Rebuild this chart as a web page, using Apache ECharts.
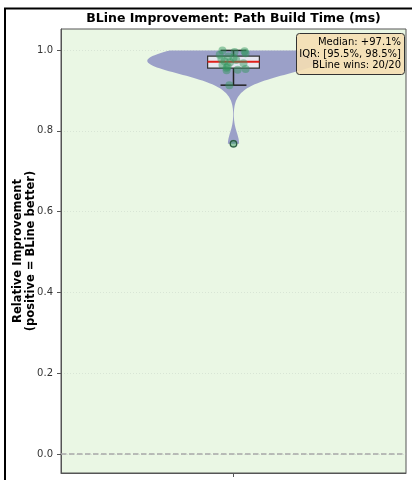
<!DOCTYPE html>
<html>
<head>
<meta charset="utf-8">
<script src="https://cdn.jsdelivr.net/npm/echarts@6/dist/echarts.min.js"></script>
<style>
  html, body { margin: 0; padding: 0; background: #fff; }
  #chart { width: 412px; height: 480px; }
</style>
</head>
<body>
<div id="chart"></div>
<script>
// Relative improvement of BLine per run (fraction, positive = BLine faster)
const improvement = [0.768, 0.913, 0.950, 0.951, 0.953, 0.956, 0.959, 0.963, 0.967, 0.970,
                     0.972, 0.975, 0.978, 0.981, 0.984, 0.988, 0.992, 0.995, 0.997, 0.999];
// horizontal jitter of each strip point (in category units)
const jitter = [0.0, -0.012, -0.020, 0.012, 0.035, -0.020, -0.017, -0.032, 0.029, -0.010,
                -0.026, 0.008, -0.035, 0.0, -0.015, -0.040, 0.035, 0.003, 0.032, -0.032];
const yTicks = [0, 0.2, 0.4, 0.6, 0.8, 1.0];
const referenceLevel = 0;
const position = 1;
const chartTitle = 'BLine Improvement: Path Build Time (ms)';
const yName = 'Relative Improvement\n(positive = BLine better)';

// ---- statistics ----
const sorted = improvement.slice().sort((a, b) => a - b);
function quantile(arr, q) {
  const idx = (arr.length - 1) * q;
  const lo = Math.floor(idx), hi = Math.ceil(idx);
  return arr[lo] + (arr[hi] - arr[lo]) * (idx - lo);
}
const q1 = quantile(sorted, 0.25);
const med = quantile(sorted, 0.5);
const q3 = quantile(sorted, 0.75);
const iqr = q3 - q1;
const loFence = q1 - 1.5 * iqr, hiFence = q3 + 1.5 * iqr;
const inside = sorted.filter(v => v >= loFence && v <= hiFence);
const whiskLo = inside[0], whiskHi = inside[inside.length - 1];
const fliers = sorted.filter(v => v < loFence || v > hiFence);
const wins = improvement.filter(v => v > 0).length;

// ---- Gaussian KDE (Scott's rule) for the violin ----
const n = improvement.length;
const mean = improvement.reduce((s, v) => s + v, 0) / n;
const sd = Math.sqrt(improvement.reduce((s, v) => s + (v - mean) ** 2, 0) / (n - 1));
const bw = sd * Math.pow(n, -1 / 5);
function kde(y) {
  let s = 0;
  for (const v of improvement) { const z = (y - v) / bw; s += Math.exp(-0.5 * z * z); }
  return s / (n * bw * Math.sqrt(2 * Math.PI));
}
const yMin = sorted[0], yMax = sorted[n - 1];
const kdeY = [], kdeD = [];
for (let i = 0; i < 100; i++) {
  const y = yMin + (yMax - yMin) * i / 99;
  kdeY.push(y); kdeD.push(kde(y));
}
const dMax = Math.max(...kdeD);
const violinHalf = 0.25, boxHalf = 0.075, capHalf = 0.0375;

const pct = v => (v * 100).toFixed(1);
const annotation = [
  'Median: +' + pct(med) + '%',
  'IQR: [' + pct(q1) + '%, ' + pct(q3) + '%]',
  'BLine wins: ' + wins + '/' + n
].join('\n');

const chart = echarts.init(document.getElementById('chart'), null, { renderer: 'canvas' });

chart.setOption({
  animation: false,
  backgroundColor: '#ffffff',
  textStyle: { fontFamily: 'DejaVu Sans' },
  grid: {
    left: 61, right: 6, top: 29, bottom: 7,
    outerBoundsMode: 'none', containLabel: false,
    show: true, backgroundColor: '#eaf7e4', borderColor: '#555', borderWidth: 1
  },
  xAxis: {
    type: 'value', min: 0.5, max: 1.5,
    axisLine: { show: true, onZero: false, lineStyle: { color: '#555', width: 1 } },
    axisTick: { show: true, customValues: [position], length: 4, lineStyle: { color: '#555' } },
    axisLabel: { show: false },
    splitLine: { show: false }
  },
  yAxis: {
    type: 'value', min: -0.047, max: 1.052,
    name: yName,
    nameLocation: 'middle',
    nameGap: 23,
    nameMoveOverlap: false,
    nameTextStyle: { fontSize: 11.5, fontWeight: 'bold', color: '#000', lineHeight: 13, fontFamily: 'DejaVu Sans' },
    axisLine: { show: true, onZero: false, lineStyle: { color: '#555', width: 1 } },
    axisTick: { show: true, customValues: yTicks, length: 4, lineStyle: { color: '#555' } },
    axisLabel: {
      customValues: yTicks, margin: 8, fontSize: 10, color: '#333',
      fontFamily: 'DejaVu Sans', formatter: v => v.toFixed(1)
    },
    splitLine: { show: true, lineStyle: { color: '#d3dfd0', type: [1, 2], width: 0.8 } }
  },
  graphic: [
    { type: 'rect', silent: true, z: 100,
      shape: { x: 5, y: 8.5, width: 600, height: 600 },
      style: { fill: 'none', stroke: '#000', lineWidth: 2 } },
    { type: 'text', silent: true, z: 100,
      style: { text: chartTitle, x: 233.5, y: 19, align: 'center', verticalAlign: 'middle',
               font: 'bold 12.5px "DejaVu Sans"', fill: '#000' } },
    { type: 'rect', silent: true, z: 100,
      shape: { x: 296.5, y: 33.5, width: 108, height: 41, r: 3 },
      style: { fill: 'rgba(245,222,179,0.9)', stroke: '#333', lineWidth: 1 } },
    { type: 'text', silent: true, z: 101,
      style: { text: annotation, x: 401, y: 37, align: 'right', verticalAlign: 'top',
               font: '10px "DejaVu Sans"', lineHeight: 11.5, fill: '#000' } }
  ],
  series: [
    {
      // dashed zero reference line
      type: 'custom', z: 1, silent: true,
      data: [[referenceLevel]],
      renderItem: function (params, api) {
        const a = api.coord([0.5, referenceLevel]), b = api.coord([1.5, referenceLevel]);
        return {
          type: 'line', shape: { x1: a[0], y1: a[1], x2: b[0], y2: b[1] },
          style: { stroke: '#a8a8a8', lineWidth: 1.5, lineDash: [5.5, 2.5] }
        };
      }
    },
    {
      // violin body
      type: 'custom', z: 2, silent: true,
      data: [[position]],
      renderItem: function (params, api) {
        const left = [], right = [];
        for (let i = 0; i < kdeY.length; i++) {
          const w = kdeD[i] / dMax * violinHalf;
          left.push(api.coord([position - w, kdeY[i]]));
          right.push(api.coord([position + w, kdeY[i]]));
        }
        return {
          type: 'polygon',
          shape: { points: left.concat(right.reverse()) },
          style: { fill: '#9ba0c8', stroke: 'none' }
        };
      }
    },
    {
      // box, whiskers, median and outliers
      type: 'custom', z: 3, silent: true,
      data: [[position]],
      renderItem: function (params, api) {
        const c = (x, y) => api.coord([x, y]);
        const line = (a, b, color, width) => ({
          type: 'line', shape: { x1: a[0], y1: a[1], x2: b[0], y2: b[1] },
          style: { stroke: color, lineWidth: width }
        });
        const tl = c(position - boxHalf, q3), br = c(position + boxHalf, q1);
        const children = [
          line(c(position, q1), c(position, whiskLo), '#222', 1.5),
          line(c(position, q3), c(position, whiskHi), '#222', 1.5),
          line(c(position - capHalf, whiskLo), c(position + capHalf, whiskLo), '#222', 1.5),
          line(c(position - capHalf, whiskHi), c(position + capHalf, whiskHi), '#222', 1.5),
          { type: 'rect', shape: { x: tl[0], y: tl[1], width: br[0] - tl[0], height: br[1] - tl[1] },
            style: { fill: 'rgba(240,240,244,0.9)', stroke: '#333', lineWidth: 1.2 } },
          line(c(position - boxHalf, med), c(position + boxHalf, med), '#e0201b', 2)
        ];
        fliers.forEach(v => {
          const p = c(position, v);
          children.push({ type: 'circle', shape: { cx: p[0], cy: p[1], r: 3.2 },
                          style: { fill: 'none', stroke: '#222', lineWidth: 1.2 } });
        });
        return { type: 'group', children: children };
      }
    },
    {
      // individual runs
      type: 'scatter', z: 4, silent: true,
      symbolSize: 8,
      itemStyle: { color: 'rgba(50,150,95,0.6)' },
      data: improvement.map((v, i) => [position + jitter[i], v])
    }
  ]
});
</script>
</body>
</html>
